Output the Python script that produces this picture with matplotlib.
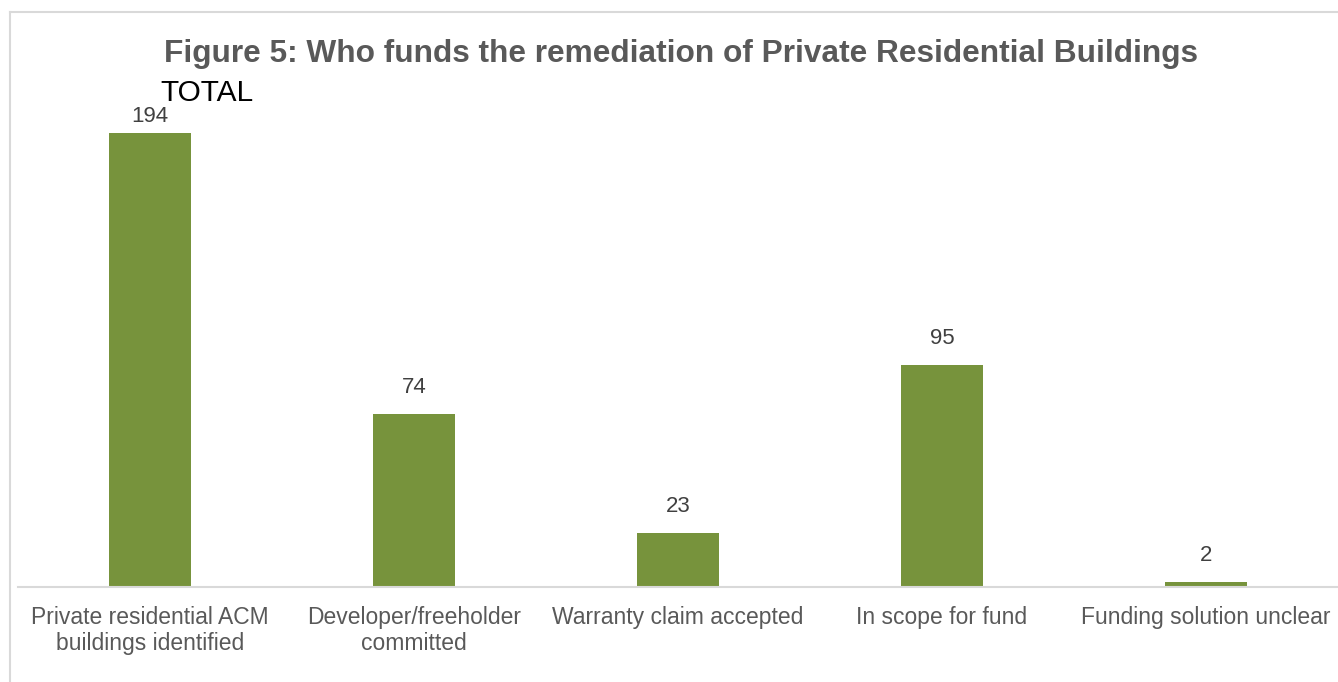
import matplotlib
matplotlib.use("Agg")
import matplotlib.pyplot as plt
from matplotlib.lines import Line2D

categories = ["Private residential ACM\nbuildings identified",
              "Developer/freeholder\ncommitted",
              "Warranty claim accepted",
              "In scope for fund",
              "Funding solution unclear"]
values = [194, 74, 23, 95, 2]
title = "Figure 5: Who funds the remediation of Private Residential Buildings"
subtitle = "TOTAL"

plt.rcParams['font.family'] = ['Liberation Sans', 'DejaVu Sans']

W, H = 1338, 682
fig = plt.figure(figsize=(W/100, H/100), dpi=100)
ax = fig.add_axes([18/W, 1-587/H, 1-18/W, (587-119)/H])

x = list(range(len(values)))
ax.bar(x, values, width=0.31, color="#77933C", zorder=2)
ax.set_xlim(-0.5, len(values)-0.5)
ax.set_ylim(0, 200)
ax.set_yticks([])
ax.set_xticks(x)
ax.set_xticklabels(categories, fontsize=16.5, color="#595959", linespacing=1.12)
ax.tick_params(axis='x', length=0, pad=14)
for s in ["top", "right", "left"]:
    ax.spines[s].set_visible(False)
ax.spines["bottom"].set_color("#D9D9D9")
ax.spines["bottom"].set_linewidth(1.5)

vmax = max(values)
for xi, v in zip(x, values):
    off = 4 if v == vmax else 11.5
    ax.annotate(str(v), (xi, v), xytext=(0, off), textcoords="offset points",
                ha="center", va="bottom", fontsize=16, color="#404040")

fig.text(681/W, 1-62/H, title, ha="center", va="baseline", fontsize=22.8,
         fontweight="bold", color="#595959")
fig.text(160/W, 1-101/H, subtitle, ha="left", va="baseline", fontsize=21.5, color="black")

fig.add_artist(Line2D([10/W, 10/W], [0, 1-12/H], transform=fig.transFigure,
                      color="#D9D9D9", lw=1.5))
fig.add_artist(Line2D([10/W, 1], [1-12/H, 1-12/H], transform=fig.transFigure,
                      color="#D9D9D9", lw=1.5))

fig.savefig("out.png", dpi=100)
